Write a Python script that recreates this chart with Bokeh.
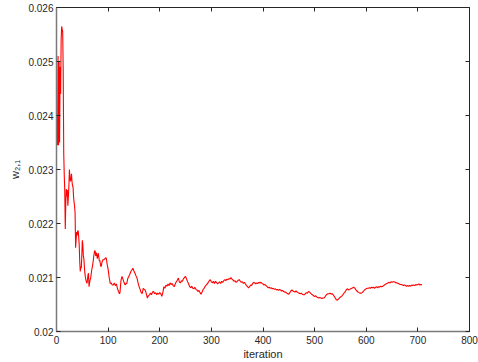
from bokeh.plotting import figure
from bokeh.models import LinearAxis, FixedTicker, Range1d, CustomJSTickFormatter
from bokeh.embed import file_html
from bokeh.resources import INLINE

# ---- data ----
iteration = [
    0, 1, 2, 3, 4, 5, 6, 7, 8, 9, 10, 11, 12, 13, 14, 15, 16, 17, 18, 19,
    20, 21, 22, 23, 24, 25, 26, 27, 28, 29, 30, 31, 32, 33, 34, 35, 36, 37, 38, 39,
    40, 41, 42, 43, 44, 45, 46, 47, 48, 49, 50, 51, 52, 53, 54, 55, 56, 57, 58, 59,
    60, 61, 62, 63, 64, 65, 66, 67, 68, 69, 70, 71, 72, 73, 74, 75, 76, 77, 78, 79,
    80, 81, 82, 83, 84, 85, 86, 87, 88, 90, 92, 94, 96, 97, 98, 99, 100, 101, 102, 103,
    104, 106, 108, 110, 112, 114, 116, 118, 120, 122, 123, 124, 125, 127, 129, 130, 132, 133, 135, 136,
    138, 140, 142, 144, 146, 148, 150, 152, 154, 156, 158, 160, 162, 164, 166, 168, 170, 172, 174, 176,
    178, 180, 182, 184, 186, 188, 190, 192, 194, 196, 198, 200, 202, 204, 206, 208, 210, 212, 214, 216,
    218, 220, 222, 224, 226, 228, 230, 232, 234, 236, 238, 240, 242, 244, 246, 248, 250, 252, 254, 256,
    258, 260, 262, 264, 266, 268, 270, 272, 274, 276, 278, 280, 282, 284, 286, 288, 290, 292, 294, 296,
    298, 300, 302, 304, 306, 308, 310, 312, 314, 316, 318, 320, 322, 324, 326, 328, 330, 332, 334, 336,
    338, 340, 342, 344, 346, 348, 350, 352, 354, 356, 358, 360, 362, 364, 366, 368, 370, 372, 374, 376,
    378, 380, 382, 384, 386, 388, 390, 392, 394, 396, 398, 400, 402, 404, 406, 408, 410, 412, 414, 416,
    418, 420, 422, 424, 426, 428, 430, 432, 434, 436, 438, 440, 442, 444, 446, 448, 450, 452, 454, 456,
    458, 460, 462, 464, 466, 468, 470, 472, 474, 476, 478, 480, 482, 484, 486, 488, 490, 492, 494, 496,
    498, 500, 502, 504, 506, 508, 510, 512, 514, 516, 518, 520, 522, 524, 526, 528, 530, 532, 534, 536,
    538, 540, 542, 544, 546, 548, 550, 552, 554, 556, 558, 560, 562, 564, 566, 568, 570, 572, 574, 576,
    578, 580, 582, 584, 586, 588, 590, 592, 594, 596, 598, 600, 602, 604, 606, 608, 610, 612, 614, 616,
    618, 620, 622, 624, 626, 628, 630, 632, 634, 636, 638, 640, 642, 644, 646, 648, 650, 652, 654, 656,
    658, 660, 662, 664, 666, 668, 670, 672, 674, 676, 678, 680, 682, 684, 686, 688, 690, 692, 694, 696,
    698, 700, 702, 704, 706, 708,
]

w21 = [
    0.02370, 0.02400, 0.02345, 0.02510, 0.02345, 0.02500, 0.02350, 0.02490, 0.02440, 0.02540,
    0.02565, 0.02560, 0.02555, 0.02480, 0.02330, 0.02290, 0.02260, 0.02190, 0.02240, 0.02264,
    0.02250, 0.02262, 0.02233, 0.02250, 0.02270, 0.02300, 0.02285, 0.02278, 0.02282, 0.02292,
    0.02278, 0.02270, 0.02268, 0.02250, 0.02240, 0.02232, 0.02220, 0.02155, 0.02170, 0.02184,
    0.02178, 0.02186, 0.02187, 0.02175, 0.02160, 0.02130, 0.02111, 0.02120, 0.02117, 0.02140,
    0.02169, 0.02160, 0.02140, 0.02135, 0.02120, 0.02108, 0.02100, 0.02095, 0.02092, 0.02089,
    0.02096, 0.02105, 0.02108, 0.02083, 0.02090, 0.02095, 0.02098, 0.02105, 0.02112, 0.02118,
    0.02123, 0.02130, 0.02138, 0.02145, 0.02150, 0.02148, 0.02140, 0.02146, 0.02142, 0.02135,
    0.02140, 0.02145, 0.02138, 0.02130, 0.02132, 0.02125, 0.02120, 0.02122, 0.02128, 0.02133,
    0.02133, 0.02135, 0.02137, 0.02132, 0.02125, 0.02120, 0.02115, 0.02108, 0.02100, 0.02095,
    0.02089, 0.02090, 0.02086, 0.02086, 0.02090, 0.02085, 0.02088, 0.02080, 0.02074, 0.02070,
    0.02072, 0.02085, 0.02095, 0.02102, 0.02096, 0.02093, 0.02088, 0.02086, 0.02090, 0.02088,
    0.02098, 0.02102, 0.02106, 0.02111, 0.02114, 0.02117, 0.02112, 0.02108, 0.02103, 0.02099,
    0.02090, 0.02083, 0.02078, 0.02072, 0.02070, 0.02080, 0.02078, 0.02076, 0.02070, 0.02062,
    0.02066, 0.02068, 0.02071, 0.02068, 0.02073, 0.02074, 0.02070, 0.02072, 0.02068, 0.02071,
    0.02069, 0.02072, 0.02070, 0.02065, 0.02072, 0.02083, 0.02080, 0.02086, 0.02084, 0.02088,
    0.02085, 0.02090, 0.02087, 0.02089, 0.02085, 0.02083, 0.02088, 0.02092, 0.02095, 0.02099,
    0.02092, 0.02090, 0.02094, 0.02093, 0.02098, 0.02100, 0.02102, 0.02097, 0.02092, 0.02088,
    0.02083, 0.02081, 0.02084, 0.02080, 0.02079, 0.02082, 0.02078, 0.02077, 0.02074, 0.02076,
    0.02072, 0.02069, 0.02073, 0.02078, 0.02080, 0.02084, 0.02086, 0.02088, 0.02091, 0.02094,
    0.02096, 0.02092, 0.02090, 0.02093, 0.02089, 0.02093, 0.02091, 0.02088, 0.02090, 0.02092,
    0.02089, 0.02093, 0.02091, 0.02094, 0.02096, 0.02094, 0.02097, 0.02096, 0.02098, 0.02097,
    0.02100, 0.02097, 0.02095, 0.02093, 0.02094, 0.02091, 0.02093, 0.02095, 0.02096, 0.02093,
    0.02091, 0.02092, 0.02089, 0.02091, 0.02088, 0.02085, 0.02083, 0.02081, 0.02083, 0.02086,
    0.02085, 0.02089, 0.02091, 0.02090, 0.02088, 0.02090, 0.02089, 0.02091, 0.02090, 0.02091,
    0.02089, 0.02088, 0.02086, 0.02087, 0.02085, 0.02083, 0.02081, 0.02082, 0.02080, 0.02081,
    0.02079, 0.02080, 0.02078, 0.02079, 0.02077, 0.02078, 0.02076, 0.02078, 0.02077, 0.02075,
    0.02076, 0.02074, 0.02073, 0.02073, 0.02071, 0.02070, 0.02069, 0.02072, 0.02075, 0.02077,
    0.02075, 0.02074, 0.02073, 0.02075, 0.02073, 0.02072, 0.02071, 0.02070, 0.02071, 0.02069,
    0.02068, 0.02068, 0.02070, 0.02072, 0.02071, 0.02074, 0.02073, 0.02071, 0.02069, 0.02068,
    0.02066, 0.02065, 0.02066, 0.02064, 0.02063, 0.02062, 0.02063, 0.02062, 0.02061, 0.02062,
    0.02062, 0.02064, 0.02067, 0.02069, 0.02070, 0.02070, 0.02071, 0.02069, 0.02070, 0.02068,
    0.02065, 0.02062, 0.02059, 0.02058, 0.02060, 0.02062, 0.02064, 0.02065, 0.02067, 0.02070,
    0.02072, 0.02075, 0.02078, 0.02079, 0.02077, 0.02078, 0.02079, 0.02080, 0.02081, 0.02082,
    0.02080, 0.02077, 0.02075, 0.02073, 0.02072, 0.02071, 0.02071, 0.02072, 0.02074, 0.02076,
    0.02078, 0.02079, 0.02080, 0.02080, 0.02081, 0.02080, 0.02082, 0.02081, 0.02082, 0.02080,
    0.02082, 0.02083, 0.02081, 0.02083, 0.02082, 0.02084, 0.02083, 0.02084, 0.02085, 0.02087,
    0.02088, 0.02089, 0.02090, 0.02091, 0.02090, 0.02092, 0.02091, 0.02092, 0.02092, 0.02091,
    0.02090, 0.02090, 0.02089, 0.02088, 0.02087, 0.02087, 0.02086, 0.02085, 0.02086, 0.02085,
    0.02084, 0.02085, 0.02084, 0.02085, 0.02084, 0.02086, 0.02085, 0.02086, 0.02085, 0.02087,
    0.02086, 0.02087, 0.02088, 0.02086, 0.02087, 0.02086,
]

x_ticks = [0, 100, 200, 300, 400, 500, 600, 700, 800]
y_ticks = [0.020, 0.021, 0.022, 0.023, 0.024, 0.025, 0.026]
y_tick_labels = ["0.02", "0.021", "0.022", "0.023", "0.024", "0.025", "0.026"]

AX = "#262626"
FONT = "Liberation Sans"

p = figure(
    width=478, height=362,
    x_range=Range1d(0, 800), y_range=Range1d(0.020, 0.026),
    output_backend="svg", toolbar_location=None,
    min_border_left=56, min_border_right=9, min_border_top=7, min_border_bottom=29,
    background_fill_color="white", border_fill_color="white",
)
p.xgrid.visible = False
p.ygrid.visible = False
p.outline_line_color = AX
p.outline_line_width = 1

p.line(iteration, w21, line_color="red", line_width=1.1)

xa = p.xaxis[0]
xa.ticker = FixedTicker(ticks=x_ticks)
xa.axis_label = "iteration"
ya = p.yaxis[0]
ya.ticker = FixedTicker(ticks=y_ticks)
ya.major_label_overrides = {t: s for t, s in zip(y_ticks, y_tick_labels)}
ya.axis_label = "w\u2082,\u2081"

for ax in (xa, ya):
    ax.axis_line_color = "#7a7a7a"
    ax.axis_line_width = 1.5
    ax.major_tick_line_color = AX
    ax.major_tick_in = 4
    ax.major_tick_out = 0
    ax.minor_tick_line_color = None
    ax.major_label_text_font = FONT
    ax.major_label_text_font_size = "10px"
    ax.major_label_text_color = AX
    ax.axis_label_text_font = FONT
    ax.axis_label_text_font_size = "11px"
    ax.axis_label_text_font_style = "normal"
    ax.axis_label_text_color = AX
xa.major_label_standoff = 4
xa.axis_label_standoff = 1
ya.major_label_standoff = 3
ya.axis_label_standoff = 4

# box ticks on the top and right sides (no labels)
top = LinearAxis(ticker=FixedTicker(ticks=x_ticks), formatter=CustomJSTickFormatter(code="return ''"))
right = LinearAxis(ticker=FixedTicker(ticks=y_ticks), formatter=CustomJSTickFormatter(code="return ''"))
for ax in (top, right):
    ax.axis_line_color = AX
    ax.major_tick_line_color = AX
    ax.major_tick_in = 4
    ax.major_tick_out = 0
    ax.minor_tick_line_color = None
    ax.major_label_standoff = 0
    ax.major_label_text_font_size = "1px"
    ax.axis_label = None
p.add_layout(top, "above")
p.add_layout(right, "right")

open("out.html", "w").write(file_html(p, INLINE))
